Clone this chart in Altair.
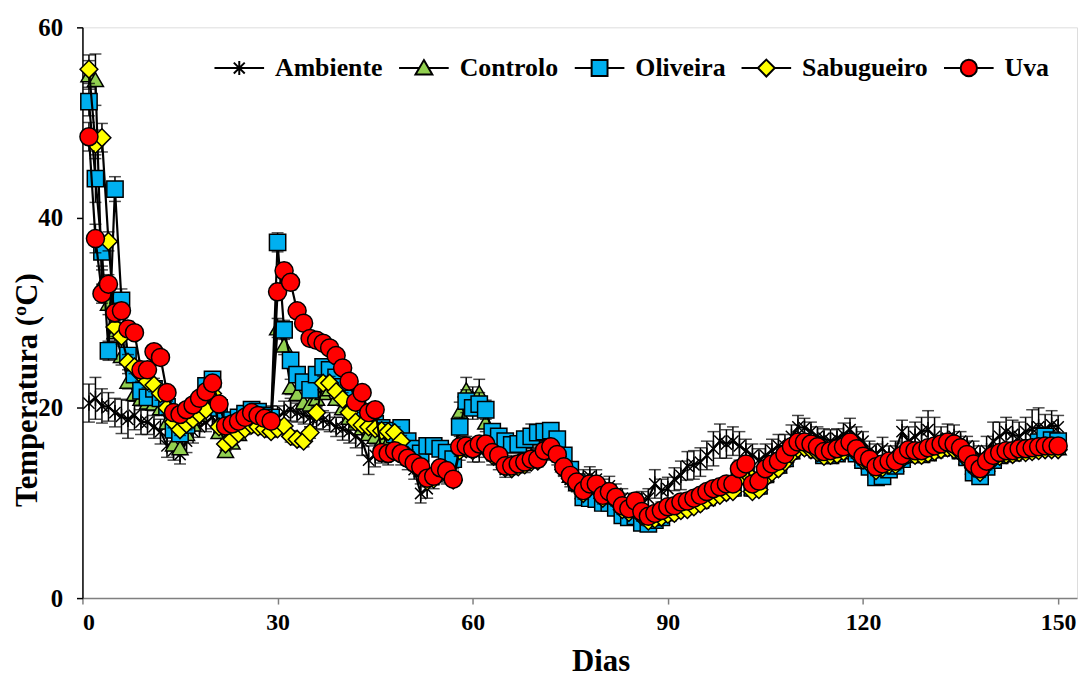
import altair as alt
import pandas as pd

dias = list(range(1, 151))

ambiente = [
    20.5, 21.0, 20.2, 20.1, 19.5, 19.1, 18.8, 19.2, 18.5, 18.5,
    18.0, 17.5, 16.0, 15.5, 15.1, 16.5, 17.5, 18.0, 18.5, 19.0,
    18.0, 17.0, 17.5, 18.0, 18.5, 19.0, 18.5, 18.5, 19.0, 19.0,
    19.5, 19.8, 19.5, 19.3, 19.0, 19.0, 18.7, 18.5, 18.0, 17.8,
    17.5, 17.0, 16.5, 14.5, 15.0, 15.2, 15.0, 15.5, 15.0, 14.5,
    13.5, 11.0, 11.5, 12.5, 13.2, 13.0, 12.8, 15.5, 16.0, 15.5,
    15.5, 15.8, 15.0, 14.5, 13.5, 13.8, 14.0, 14.2, 14.8, 15.0,
    15.5, 16.0, 15.0, 13.8, 12.5, 12.0, 12.5, 12.8, 12.5, 11.5,
    11.8, 11.0, 10.5, 10.0, 10.0, 10.2, 10.5, 12.0, 11.3, 11.5,
    12.5, 12.9, 13.9, 14.0, 14.3, 15.0, 15.7, 16.5, 16.2, 16.5,
    16.0, 15.5, 15.0, 14.5, 15.0, 15.5, 16.0, 16.0, 17.0, 18.0,
    17.9, 17.5, 17.0, 16.8, 16.5, 16.8, 17.2, 17.7, 17.0, 16.5,
    15.5, 15.2, 15.7, 15.0, 15.5, 17.5, 16.5, 17.0, 17.5, 17.7,
    17.0, 16.5, 16.8, 17.0, 16.5, 16.0, 15.5, 15.0, 15.5, 16.5,
    17.0, 17.5, 17.2, 17.0, 17.5, 17.8, 18.0, 17.8, 18.2, 18.0,
]
controlo = [
    55.0, 54.5, 33.0, 31.0, 28.0, 25.5, 22.8, 21.5, 21.0, 20.6,
    20.5, 20.0, 18.5, 16.2, 15.8, 17.3, 18.3, 19.3, 20.3, 21.5,
    17.5, 15.5, 16.4, 17.3, 18.2, 18.9, 18.8, 18.4, 18.3, 28.4,
    26.6, 22.2, 21.5, 20.6, 20.4, 21.0, 21.6, 22.0, 21.0, 20.0,
    19.0, 18.4, 17.9, 17.3, 17.0, 16.5, 16.4, 16.5, 16.2, 15.3,
    14.5, 13.8, 12.9, 13.0, 13.8, 13.5, 13.0, 19.6, 21.9, 21.0,
    21.6, 18.5, 16.0, 15.5, 14.4, 14.2, 14.4, 14.6, 14.9, 15.0,
    15.8, 16.3, 15.5, 14.0, 12.9, 12.0, 11.2, 11.7, 11.7, 10.6,
    10.9, 10.3, 9.4, 9.1, 9.7, 8.7, 8.3, 8.5, 8.8, 9.1,
    9.3, 9.6, 9.7, 10.0, 10.3, 10.7, 11.0, 11.2, 11.5, 11.6,
    13.0, 13.6, 11.6, 11.8, 13.0, 13.6, 13.9, 14.6, 15.4, 16.0,
    16.1, 15.9, 15.6, 15.1, 15.2, 15.4, 15.6, 16.1, 15.4, 14.7,
    14.3, 13.5, 13.8, 14.1, 14.1, 14.7, 15.3, 15.2, 15.2, 15.5,
    15.7, 15.9, 16.1, 15.9, 15.5, 14.8, 13.8, 13.3, 14.1, 14.7,
    15.0, 15.2, 15.2, 15.4, 15.4, 15.5, 15.7, 15.8, 15.8, 15.8,
]
oliveira = [
    52.2, 44.1, 36.4, 26.0, 43.0, 31.3, 25.5, 23.5, 21.8, 21.1,
    22.0, 21.0, 20.1, 17.7, 17.3, 18.2, 19.2, 20.3, 22.3, 23.0,
    20.0, 18.6, 18.7, 19.0, 19.4, 19.8, 19.6, 19.2, 19.0, 37.4,
    28.2, 25.0, 23.5, 22.7, 21.9, 23.5, 24.3, 24.0, 23.2, 22.2,
    21.0, 20.3, 19.5, 18.8, 18.3, 17.9, 17.6, 17.2, 17.9, 16.5,
    15.7, 15.2, 16.0, 16.0, 15.7, 15.3, 14.6, 18.0, 20.7, 20.0,
    20.4, 19.8, 17.5, 17.0, 16.5, 16.1, 16.2, 16.7, 17.0, 17.4,
    17.5, 17.6, 16.7, 15.0, 13.5, 12.2, 10.6, 10.5, 10.4, 10.0,
    10.0, 9.5, 8.7, 8.5, 8.6, 7.9, 7.8, 8.2, 8.5, 9.0,
    9.3, 9.5, 9.7, 10.0, 10.3, 10.6, 11.0, 11.2, 11.4, 11.6,
    12.8, 13.3, 11.6, 11.8, 13.0, 13.7, 14.0, 14.7, 15.5, 16.0,
    16.1, 15.9, 15.6, 15.0, 15.0, 15.2, 15.5, 15.9, 15.2, 14.5,
    13.8, 12.7, 12.8, 13.5, 13.9, 14.6, 15.2, 15.1, 15.1, 15.3,
    15.6, 15.8, 16.0, 15.9, 15.5, 14.8, 13.2, 12.8, 13.8, 14.5,
    15.0, 15.2, 15.3, 15.5, 15.6, 15.8, 16.4, 17.0, 16.6, 16.5,
]
sabugueiro = [
    55.6, 47.7, 48.4, 37.5, 28.5, 27.5, 24.8, 24.3, 23.5, 22.8,
    22.4, 21.5, 20.0, 18.5, 17.7, 18.3, 18.8, 19.3, 19.8, 21.5,
    18.0, 16.2, 16.7, 17.3, 17.8, 18.2, 18.0, 17.8, 17.5, 17.8,
    18.1, 17.0, 16.7, 16.5, 17.4, 19.5, 22.6, 22.6, 21.7, 20.9,
    19.5, 18.5, 18.2, 18.0, 17.8, 17.6, 17.5, 17.4, 16.5, 15.0,
    14.0, 13.4, 12.3, 12.5, 13.3, 13.0, 12.4, 15.5, 15.7, 15.5,
    15.9, 15.8, 15.0, 14.7, 13.7, 13.6, 13.8, 14.0, 14.3, 14.4,
    15.2, 15.6, 14.9, 13.5, 12.6, 11.8, 11.0, 11.6, 11.6, 10.5,
    10.8, 10.2, 9.3, 9.0, 9.6, 8.6, 8.1, 8.3, 8.5, 8.8,
    8.9, 9.2, 9.3, 9.6, 9.9, 10.3, 10.6, 10.8, 11.1, 11.2,
    12.6, 13.2, 11.2, 11.4, 12.6, 13.2, 13.6, 14.3, 15.1, 15.7,
    15.8, 15.6, 15.3, 14.9, 15.0, 15.1, 15.4, 15.9, 15.2, 14.5,
    14.1, 13.4, 13.7, 14.0, 14.0, 14.6, 15.1, 15.0, 15.0, 15.2,
    15.4, 15.6, 15.8, 15.6, 15.3, 14.6, 13.7, 13.2, 14.0, 14.6,
    14.9, 15.1, 15.1, 15.3, 15.3, 15.4, 15.5, 15.6, 15.6, 15.6,
]
uva = [
    48.5, 37.8, 32.0, 33.0, 30.0, 30.2, 28.3, 27.9, 24.0, 24.0,
    25.9, 25.3, 21.6, 19.5, 19.3, 19.8, 20.3, 21.0, 21.7, 22.6,
    20.4, 18.1, 18.3, 18.6, 19.0, 19.5, 19.2, 18.9, 18.6, 32.2,
    34.4, 33.2, 30.2, 28.9, 27.3, 27.1, 26.8, 26.3, 25.5, 24.2,
    22.8, 20.6, 21.6, 19.5, 19.8, 15.3, 15.2, 15.5, 15.2, 14.7,
    14.2, 13.8, 12.6, 12.8, 13.7, 13.4, 12.5, 15.9, 16.0, 15.7,
    16.2, 16.2, 15.3, 15.0, 13.9, 13.9, 14.1, 14.3, 14.6, 14.6,
    15.5, 15.9, 15.1, 13.8, 12.9, 12.2, 11.3, 12.0, 12.0, 10.8,
    11.2, 10.6, 9.7, 9.4, 10.2, 9.1, 8.6, 8.9, 9.2, 9.6,
    9.7, 10.1, 10.2, 10.5, 10.8, 11.2, 11.5, 11.7, 12.0, 12.0,
    13.6, 14.1, 12.0, 12.3, 13.6, 14.1, 14.4, 15.1, 15.9, 16.4,
    16.4, 16.2, 15.9, 15.4, 15.5, 15.7, 15.9, 16.4, 15.7, 14.9,
    14.6, 13.8, 14.1, 14.4, 14.4, 15.0, 15.6, 15.5, 15.5, 15.8,
    16.0, 16.2, 16.4, 16.2, 15.8, 15.1, 14.1, 13.6, 14.4, 15.0,
    15.3, 15.5, 15.5, 15.7, 15.7, 15.8, 15.9, 16.0, 16.0, 16.0,
]

# standard deviations (error bars)
err_ambiente = [
    2.0, 2.2, 1.8, 1.5, 1.5, 1.8, 2.0, 1.5, 1.3, 1.3,
    1.2, 1.3, 1.2, 1.0, 1.0, 1.2, 1.2, 1.1, 1.0, 1.2,
    1.2, 1.5, 1.2, 1.0, 1.0, 1.0, 1.0, 1.2, 1.2, 1.2,
    1.2, 1.2, 1.0, 1.0, 1.0, 1.2, 1.0, 1.0, 1.0, 1.2,
    1.2, 1.2, 1.5, 1.5, 1.2, 1.0, 1.0, 1.0, 1.0, 1.0,
    1.0, 1.0, 1.0, 1.0, 1.0, 1.0, 1.0, 1.0, 1.0, 1.2,
    1.2, 1.0, 1.0, 1.0, 0.8, 0.8, 0.8, 1.0, 1.0, 1.0,
    1.0, 1.0, 1.0, 1.0, 0.8, 0.8, 1.0, 1.0, 1.0, 1.0,
    1.0, 1.0, 1.0, 1.0, 1.0, 1.0, 1.0, 1.5, 1.2, 1.2,
    1.2, 1.5, 1.5, 1.5, 1.5, 1.5, 1.8, 1.8, 1.5, 1.5,
    1.5, 1.2, 1.2, 1.2, 1.2, 1.2, 1.2, 1.2, 1.2, 1.2,
    1.0, 1.0, 1.0, 1.0, 1.2, 1.0, 1.2, 1.2, 1.0, 1.0,
    1.0, 1.0, 1.2, 1.0, 1.0, 1.2, 1.5, 1.5, 1.5, 2.0,
    2.0, 1.5, 1.5, 1.2, 1.0, 1.0, 1.0, 1.0, 1.5, 2.0,
    1.5, 1.5, 1.5, 1.5, 1.5, 2.0, 2.0, 1.5, 1.5, 1.2,
]
err_controlo = [
    1.5, 2.7, 1.5, 1.2, 1.0, 1.0, 0.8, 0.8, 0.8, 0.8,
    0.8, 0.8, 0.7, 0.7, 0.7, 0.7, 0.7, 0.7, 0.7, 0.8,
    0.7, 0.7, 0.6, 0.6, 0.6, 0.6, 0.6, 0.6, 0.6, 1.0,
    1.0, 0.8, 0.8, 0.7, 0.7, 0.7, 0.7, 0.7, 0.7, 0.7,
    0.6, 0.6, 0.6, 0.6, 0.6, 0.6, 0.6, 0.6, 0.6, 0.6,
    0.6, 0.6, 0.6, 0.6, 0.6, 0.6, 0.6, 1.0, 1.3, 1.2,
    1.4, 1.0, 0.8, 0.6, 0.6, 0.6, 0.6, 0.6, 0.6, 0.6,
    0.6, 0.6, 0.6, 0.6, 0.6, 0.6, 0.6, 0.6, 0.6, 0.6,
    0.5, 0.5, 0.5, 0.5, 0.5, 0.5, 0.5, 0.5, 0.5, 0.5,
    0.5, 0.5, 0.5, 0.5, 0.5, 0.5, 0.5, 0.5, 0.5, 0.5,
    0.6, 0.6, 0.6, 0.6, 0.6, 0.6, 0.6, 0.6, 0.6, 0.6,
    0.6, 0.6, 0.6, 0.6, 0.6, 0.6, 0.6, 0.6, 0.6, 0.6,
    0.6, 0.6, 0.6, 0.6, 0.6, 0.6, 0.6, 0.6, 0.6, 0.6,
    0.6, 0.6, 0.6, 0.6, 0.6, 0.6, 0.6, 0.6, 0.6, 0.6,
    0.6, 0.6, 0.6, 0.6, 0.6, 0.6, 0.6, 0.6, 0.6, 0.6,
]
err_oliveira = [
    1.5, 2.5, 1.5, 1.0, 1.3, 1.2, 0.8, 0.8, 0.7, 0.7,
    0.7, 0.7, 0.7, 0.7, 0.7, 0.7, 0.7, 0.7, 0.7, 0.8,
    0.7, 0.7, 0.6, 0.6, 0.6, 0.6, 0.6, 0.6, 0.6, 1.0,
    1.0, 0.8, 0.8, 0.7, 0.7, 0.7, 0.7, 0.7, 0.7, 0.7,
    0.6, 0.6, 0.6, 0.6, 0.6, 0.6, 0.6, 0.6, 0.6, 0.6,
    0.6, 0.6, 0.6, 0.6, 0.6, 0.6, 0.6, 1.0, 1.2, 1.2,
    1.2, 1.0, 0.8, 0.6, 0.6, 0.6, 0.6, 0.8, 1.3, 0.8,
    0.8, 0.8, 0.6, 0.6, 0.6, 0.6, 0.6, 0.6, 0.6, 0.6,
    0.5, 0.5, 0.5, 0.5, 0.5, 0.5, 0.5, 0.5, 0.5, 0.5,
    0.5, 0.5, 0.5, 0.5, 0.5, 0.5, 0.5, 0.5, 0.5, 0.5,
    0.6, 0.6, 0.6, 0.6, 0.6, 0.6, 0.6, 0.6, 0.6, 0.6,
    0.6, 0.6, 0.6, 0.6, 0.6, 0.6, 0.6, 0.6, 0.6, 0.6,
    0.6, 0.6, 0.6, 0.6, 0.6, 0.6, 0.6, 0.6, 0.6, 0.6,
    0.6, 0.6, 0.6, 0.6, 0.6, 0.6, 0.6, 0.6, 0.6, 0.6,
    0.6, 0.6, 0.6, 0.6, 0.6, 0.6, 0.8, 0.8, 0.6, 0.6,
]
err_sabugueiro = [
    1.5, 1.5, 1.5, 1.0, 1.0, 0.8, 0.8, 0.7, 0.7, 0.7,
    0.7, 0.7, 0.7, 0.6, 0.6, 0.6, 0.6, 0.6, 0.6, 0.7,
    0.6, 0.6, 0.6, 0.6, 0.6, 0.6, 0.6, 0.6, 0.6, 0.6,
    0.6, 0.6, 0.6, 0.6, 0.6, 0.6, 0.7, 0.7, 0.7, 0.7,
    0.6, 0.6, 0.6, 0.6, 0.6, 0.6, 0.6, 0.6, 0.6, 0.6,
    0.6, 0.6, 0.6, 0.6, 0.6, 0.6, 0.6, 0.6, 0.6, 0.6,
    0.6, 0.6, 0.6, 0.6, 0.6, 0.6, 0.6, 0.6, 0.6, 0.6,
    0.6, 0.6, 0.6, 0.6, 0.6, 0.6, 0.6, 0.6, 0.6, 0.6,
    0.5, 0.5, 0.5, 0.5, 0.5, 0.5, 0.5, 0.5, 0.5, 0.5,
    0.5, 0.5, 0.5, 0.5, 0.5, 0.5, 0.5, 0.5, 0.5, 0.5,
    0.5, 0.5, 0.5, 0.5, 0.5, 0.5, 0.5, 0.5, 0.5, 0.5,
    0.5, 0.5, 0.5, 0.5, 0.5, 0.5, 0.5, 0.5, 0.5, 0.5,
    0.5, 0.5, 0.5, 0.5, 0.5, 0.5, 0.5, 0.5, 0.5, 0.5,
    0.5, 0.5, 0.5, 0.5, 0.5, 0.5, 0.5, 0.5, 0.5, 0.5,
    0.5, 0.5, 0.5, 0.5, 0.5, 0.5, 0.5, 0.5, 0.5, 0.5,
]
err_uva = [
    1.5, 1.5, 1.0, 1.0, 1.0, 0.8, 0.8, 0.7, 0.7, 0.7,
    0.7, 0.7, 0.7, 0.6, 0.6, 0.6, 0.6, 0.6, 0.6, 0.7,
    0.6, 0.6, 0.6, 0.6, 0.6, 0.6, 0.6, 0.6, 0.6, 0.8,
    0.8, 0.8, 0.7, 0.7, 0.7, 0.7, 0.7, 0.7, 0.7, 0.7,
    0.6, 0.6, 0.6, 0.6, 0.6, 0.6, 0.6, 0.6, 0.6, 0.6,
    0.6, 0.6, 0.6, 0.6, 0.6, 0.6, 0.6, 0.6, 0.6, 0.6,
    0.6, 0.6, 0.6, 0.6, 0.6, 0.6, 0.6, 0.6, 0.6, 0.6,
    0.6, 0.6, 0.6, 0.6, 0.6, 0.6, 0.6, 0.6, 0.6, 0.6,
    0.5, 0.5, 0.5, 0.5, 0.5, 0.5, 0.5, 0.5, 0.5, 0.5,
    0.5, 0.5, 0.5, 0.5, 0.5, 0.5, 0.5, 0.5, 0.5, 0.5,
    0.5, 0.5, 0.5, 0.5, 0.5, 0.5, 0.5, 0.5, 0.5, 0.5,
    0.5, 0.5, 0.5, 0.5, 0.5, 0.5, 0.5, 0.5, 0.5, 0.5,
    0.5, 0.5, 0.5, 0.5, 0.5, 0.5, 0.5, 0.5, 0.5, 0.5,
    0.5, 0.5, 0.5, 0.5, 0.5, 0.5, 0.5, 0.5, 0.5, 0.5,
    0.5, 0.5, 0.5, 0.5, 0.5, 0.5, 0.5, 0.5, 0.5, 0.5,
]

series_names = ["Ambiente", "Controlo", "Oliveira", "Sabugueiro", "Uva"]
series_vals = [ambiente, controlo, oliveira, sabugueiro, uva]
series_errs = [err_ambiente, err_controlo, err_oliveira, err_sabugueiro, err_uva]
fill_colors = ["#000000", "#92D050", "#00B0F0", "#FFFF00", "#FF0000"]

ASTERISK = "M-1,-1L1,1M-1,1L1,-1M0,-1.35V1.35"
plot_shapes = [ASTERISK, "triangle-up", "square", "diamond", "circle"]
plot_sizes = [130, 260, 270, 320, 330]

legend_paths = [
    "M-1,0H1M0,-0.28V0.28M-0.22,-0.22L0.22,0.22M-0.22,0.22L0.22,-0.22",
    "M-1,0H-0.19M0.19,0H1M0,-0.32L0.34,0.26L-0.34,0.26Z",
    "M-1,0H-0.32M0.32,0H1M-0.32,-0.32H0.32V0.32H-0.32Z",
    "M-1,0H-0.34M0.34,0H1M0,-0.34L0.34,0L0,0.34L-0.34,0Z",
    "M-1,0H-0.33M0.33,0H1M0.33,0A0.33,0.33,0,1,1,-0.33,0A0.33,0.33,0,1,1,0.33,0Z",
]

rows = []
for name, vals, errs in zip(series_names, series_vals, series_errs):
    for d, v, e in zip(dias, vals, errs):
        rows.append({"serie": name, "dia": d, "temp": v,
                     "lo": round(v - e, 2), "hi": round(v + e, 2)})
df = pd.DataFrame(rows)

FONT = "Liberation Serif"

x_axis = alt.Axis(values=[0, 30, 60, 90, 120, 150], grid=False,
                  labelFont=FONT, labelFontSize=24, labelFontWeight="bold", labelColor="black",
                  labelPadding=7, tickSize=6, tickColor="#808080", tickWidth=1.5,
                  domainColor="#808080", domainWidth=1.5,
                  title="Dias", titleFont=FONT, titleFontSize=31, titleFontWeight="bold",
                  titleColor="black", titleX=522, titleY=73, titleBaseline="alphabetic")
y_axis = alt.Axis(values=[0, 20, 40, 60], grid=False,
                  labelFont=FONT, labelFontSize=25, labelFontWeight="bold", labelColor="black",
                  labelPadding=14, tickSize=6, tickColor="black", tickWidth=1.5,
                  domainColor="black", domainWidth=1.5,
                  title="Temperatura (ºC)", titleFont=FONT, titleFontSize=31,
                  titleFontWeight="bold", titleColor="black", titleAngle=-90,
                  titleX=-55, titleY=365, titleBaseline="middle", titleAlign="center")

x_scale = alt.Scale(domain=[0, 152.9], nice=False, zero=False)
y_scale = alt.Scale(domain=[0, 60], nice=False)

base = alt.Chart(df)
layers = []
for i, name in enumerate(series_names):
    sub = base.transform_filter(alt.datum.serie == name)
    err = sub.mark_errorbar(ticks={"size": 12, "thickness": 1.5}, color="black",
                            thickness=1.5).encode(
        x=alt.X("dia:Q", scale=x_scale, axis=x_axis),
        y=alt.Y("lo:Q", scale=y_scale, axis=y_axis),
        y2="hi:Q",
    )
    line = sub.mark_line(color="black", strokeWidth=2.2).encode(
        x=alt.X("dia:Q", scale=x_scale, axis=x_axis),
        y=alt.Y("temp:Q", scale=y_scale, axis=y_axis),
    )
    if i == 0:
        pts = sub.mark_point(shape=plot_shapes[i], filled=False, color="black",
                             strokeWidth=1.5, size=plot_sizes[i], opacity=1)
    else:
        pts = sub.mark_point(shape=plot_shapes[i], filled=True, fill=fill_colors[i],
                             stroke="black", strokeWidth=1.5, size=plot_sizes[i], opacity=1)
    pts = pts.encode(
        x=alt.X("dia:Q", scale=x_scale, axis=x_axis),
        y=alt.Y("temp:Q", scale=y_scale, axis=y_axis),
    )
    layers += [err, line, pts]

legend_kw = dict(title=None, orient="none", legendX=132, legendY=15, direction="horizontal",
                 labelFont=FONT, labelFontSize=26, labelFontWeight="bold", labelColor="black",
                 symbolSize=2500, symbolStrokeWidth=2,
                 labelOffset=10, columnPadding=12, symbolOpacity=1)
legend_layer = base.transform_filter("false").mark_point(
    filled=True, strokeWidth=2, size=2500, opacity=1
).encode(
    fill=alt.Fill("serie:N", scale=alt.Scale(domain=series_names, range=fill_colors),
                  legend=alt.Legend(**legend_kw)),
    stroke=alt.Stroke("serie:N",
                      scale=alt.Scale(domain=series_names, range=["#000000"] * len(series_names)),
                      legend=alt.Legend(**legend_kw)),
    shape=alt.Shape("serie:N", scale=alt.Scale(domain=series_names, range=legend_paths),
                    legend=alt.Legend(**legend_kw)),
)
layers.append(legend_layer)

chart = alt.layer(*layers).properties(
    width=1002, height=575,
    autosize=alt.AutoSizeParams(type="none"),
    padding={"left": 75, "top": 17, "right": 2, "bottom": 78},
).configure_view(stroke=None).configure(background="white")

chart.save("out.html", embed_options={"renderer": "svg", "actions": False})
